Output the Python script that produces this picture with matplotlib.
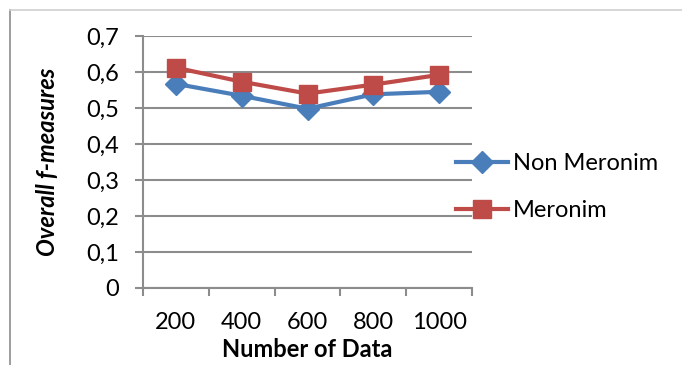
import matplotlib
matplotlib.use("Agg")
import matplotlib.pyplot as plt
from matplotlib.lines import Line2D

plt.rcParams["font.family"] = ["Lato", "DejaVu Sans"]

categories = ["200", "400", "600", "800", "1000"]
non_meronim = [0.567, 0.534, 0.498, 0.538, 0.545]
meronim = [0.612, 0.573, 0.540, 0.565, 0.592]
y_ticks = [0, 0.1, 0.2, 0.3, 0.4, 0.5, 0.6, 0.7]
y_tick_labels = ["0", "0,1", "0,2", "0,3", "0,4", "0,5", "0,6", "0,7"]

BLUE = "#4a7ebb"
RED = "#be4b48"
GRID = "#8c8c8c"
FS = 17

fig = plt.figure(figsize=(6.82, 3.65), dpi=100)
ax = fig.add_axes([143 / 682, 1 - 288 / 365, 329 / 682, 252 / 365])

x = list(range(len(categories)))
ax.plot(x, non_meronim, color=BLUE, lw=3, marker="D", ms=11,
        label="Non Meronim", zorder=3)
ax.plot(x, meronim, color=RED, lw=3, marker="s", ms=13,
        label="Meronim", zorder=4)

ax.set_xlim(-0.5, len(categories) - 0.5)
ax.set_ylim(0, 0.7)
ax.set_yticks(y_ticks)
ax.set_yticklabels(y_tick_labels)
ax.set_xticks(x)
ax.set_xticklabels(categories)
ax.set_xticks([i - 0.5 for i in range(len(categories) + 1)], minor=True)

ax.grid(axis="y", color=GRID, lw=1.5)
ax.set_axisbelow(True)
for s in ("top", "right"):
    ax.spines[s].set_visible(False)
for s in ("left", "bottom"):
    ax.spines[s].set_color(GRID)
    ax.spines[s].set_linewidth(1.5)

ax.tick_params(axis="y", length=6, width=1.5, color=GRID, pad=11, labelsize=FS)
ax.tick_params(axis="x", which="major", length=0, pad=17, labelsize=FS)
ax.tick_params(axis="x", which="minor", length=6, width=1.5, color=GRID)

ax.set_xlabel("Number of Data", fontsize=FS, fontweight="bold")
ax.xaxis.set_label_coords(0.5, -0.2)
ax.set_ylabel("Overall f-measures", fontsize=FS,
              fontweight="bold", fontstyle="italic")
ax.yaxis.set_label_coords(-0.255, 0.5)

fig.legend(loc="center left", bbox_to_anchor=(456 / 682, 1 - 187 / 365),
           frameon=False, fontsize=FS, handlelength=2.2, handletextpad=0.2,
           labelspacing=1.1, borderaxespad=0, borderpad=0)

# outer chart frame
fig.add_artist(Line2D([10 / 682, 10 / 682], [0, 1 - 10 / 365],
                      transform=fig.transFigure, color=GRID, lw=1.2))
fig.add_artist(Line2D([10 / 682, 1], [1 - 10 / 365, 1 - 10 / 365],
                      transform=fig.transFigure, color="#cfcfcf", lw=1.2))

fig.savefig("out.png", dpi=100)
